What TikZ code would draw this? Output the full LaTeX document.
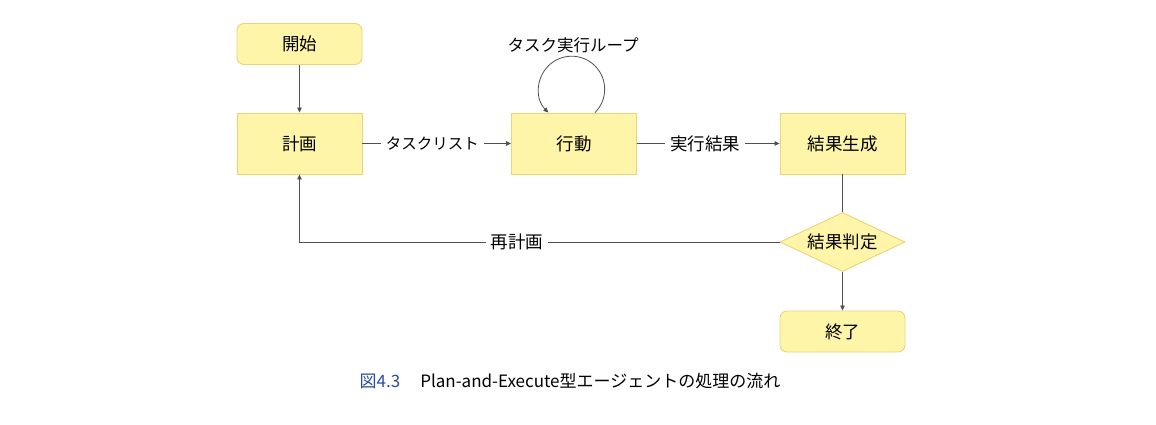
\documentclass[tikz,border=0pt]{standalone}
\usepackage{fontspec}
\setmainfont{Noto Sans CJK JP}
\usetikzlibrary{shapes.geometric,arrows.meta}
\definecolor{boxfill}{HTML}{FFF5A8}
\definecolor{boxline}{HTML}{EDD27C}
\definecolor{linegray}{HTML}{505050}
\definecolor{capblue}{HTML}{2B4C9A}
\begin{document}
\begin{tikzpicture}[x=1pt,y=-1pt,
  box/.style={draw=boxline, fill=boxfill, line width=0.9pt, minimum width=125pt, minimum height=61pt, inner sep=0pt, font=\fontsize{17.5}{20}\selectfont},
  term/.style={box, rounded corners=7pt, minimum height=41pt},
  dec/.style={diamond, aspect=2.1, draw=boxline, fill=boxfill, line width=0.9pt, minimum width=125pt, minimum height=59pt, inner sep=0pt, font=\fontsize{17.5}{20}\selectfont},
  conn/.style={draw=linegray, line width=0.8pt},
  arr/.style={conn, -{Triangle[length=5pt,width=4.5pt]}},
  lbl/.style={fill=white, inner xsep=5pt, inner ysep=2pt, font=\fontsize{17.5}{20}\selectfont, text=black}]
\useasboundingbox (0,0) rectangle (1156,425);
\fill[white] (0,0) rectangle (1156,425);

\node[term] (start) at (299.5,44) {開始};
\node[box] (plan) at (299.5,143.5) {計画};
\node[box] (act) at (574,143.5) {行動};
\node[box] (gen) at (842.5,143.5) {結果生成};
\node[dec] (judge) at (842.5,242) {結果判定};
\node[term] (end) at (842.5,331.5) {終了};
\node[font=\fontsize{16.5}{19}\selectfont] (looplbl) at (573,45) {タスク実行ループ};

\draw[arr] (start) -- (plan);
\draw[arr] (plan) -- node[lbl, pos=0.47, font=\fontsize{15.5}{18}\selectfont] {タスクリスト} (act);
\draw[arr] (act) -- node[lbl, pos=0.48] {実行結果} (gen);
\draw[conn] (gen) -- (judge);
\draw[arr] (judge) -- (end);
\draw[arr] (judge.west) -- node[lbl, pos=0.547] {再計画} (plan |- judge.west) -- (plan.south);
\draw[arr] ([xshift=21pt]act.north) arc[start angle=-45, end angle=225, radius=33pt];

\node[font=\fontsize{17}{20}\selectfont] (cap) at (570,381) {{\color{capblue}図4.3}\hspace{20pt}Plan-and-Execute型エージェントの処理の流れ};
\end{tikzpicture}
\end{document}
